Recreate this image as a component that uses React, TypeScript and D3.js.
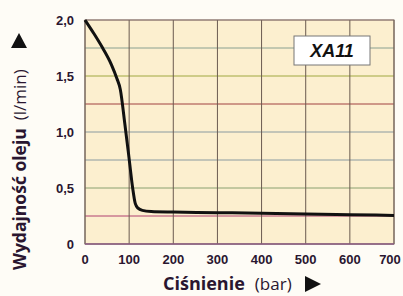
import React from "react";
import * as d3 from "d3";

const pressure = [0, 20, 40, 60, 72, 80, 90, 100, 108, 114, 120, 130, 150, 200, 300, 400, 500, 600, 700];
const flow = [2.0, 1.88, 1.75, 1.6, 1.48, 1.38, 1.08, 0.76, 0.5, 0.36, 0.32, 0.3, 0.29, 0.285, 0.28, 0.275, 0.268, 0.262, 0.255];
const xTicks = [0, 100, 200, 300, 400, 500, 600, 700];
const yTicks = [0, 0.5, 1.0, 1.5, 2.0];
const yTickLabels = ["0", "0,5", "1,0", "1,5", "2,0"];
const hLines = [0.25, 0.5, 0.75, 1.0, 1.25, 1.5, 1.75, 2.0];
const hColors = ["#b04070", "#8aa070", "#8a9aa0", "#8a9aa0", "#a04040", "#a0a840", "#8aa090", "#c0a0a0"];

export default function App() {
  const W = 403, H = 296;
  const x = d3.scaleLinear().domain([0, 700]).range([85, 394]);
  const y = d3.scaleLinear().domain([0, 2]).range([244, 20]);
  const line = d3.line<number>().x((d, i) => x(pressure[i])).y((d) => y(d)).curve(d3.curveMonotoneX);
  const sans = "'Liberation Sans', Arial, sans-serif";
  const labelFont = "'Open Sans', 'Noto Sans', sans-serif";
  const dark = "#2a1630";
  return (
    <svg width={W} height={H} style={{ position: "absolute", left: 0, top: 0, background: "#fefcf6" }}>
      <rect x={x(0)} y={y(2)} width={x(700) - x(0)} height={y(0) - y(2)} fill="#fcefcf" />
      {hLines.map((v, i) => (
        <line key={"h" + v} x1={x(0)} x2={x(700)} y1={y(v)} y2={y(v)} stroke={hColors[i]} strokeWidth={1} />
      ))}
      {xTicks.map((v) => (
        <line key={"v" + v} x1={x(v)} x2={x(v)} y1={y(2)} y2={y(0)} stroke="#6a5a50" strokeWidth={1} />
      ))}
      <rect x={x(0)} y={y(2)} width={x(700) - x(0)} height={y(0) - y(2)} fill="none" stroke="#7a6a60" strokeWidth={1} />
      <line x1={x(0)} x2={x(700)} y1={y(0)} y2={y(0)} stroke="#8a5a80" strokeWidth={1.5} />
      <path d={line(flow) || ""} fill="none" stroke="#111" strokeWidth={3} strokeLinejoin="round" />
      <rect x={294} y={36} width={76} height={29} fill="#fff" stroke="#777" strokeWidth={1} />
      <text x={332} y={57} textAnchor="middle" fontFamily={sans} fontWeight="bold" fontStyle="italic" fontSize={18} fill="#111">XA11</text>
      {yTicks.map((v, i) => (
        <text key={"yt" + v} x={74} y={y(v) + 4.5} textAnchor="end" fontFamily={sans} fontWeight="bold" fontSize={13} fill={dark}>{yTickLabels[i]}</text>
      ))}
      {xTicks.map((v) => (
        <text key={"xt" + v} x={Math.min(x(v), 390)} y={264} textAnchor="middle" fontFamily={sans} fontWeight="bold" fontSize={13} fill={dark}>{v}</text>
      ))}
      <text transform="translate(26,270) rotate(-90)" fontFamily={labelFont} fontSize={17.5} fill={dark}>
        <tspan fontWeight="bold">Wydajność oleju</tspan>
        <tspan dx={8} fontSize={17} fontWeight="normal">(l/min)</tspan>
      </text>
      <path d="M11,48 L27,48 L19,33 Z" fill="#111" />
      <text x={163} y={290} fontFamily={labelFont} fontSize={18} fill={dark}>
        <tspan fontWeight="bold">Ciśnienie</tspan>
        <tspan dx={10} fontSize={17} fontWeight="normal">(bar)</tspan>
      </text>
      <path d="M305,276 L305,292 L321,284 Z" fill="#111" />
    </svg>
  );
}
